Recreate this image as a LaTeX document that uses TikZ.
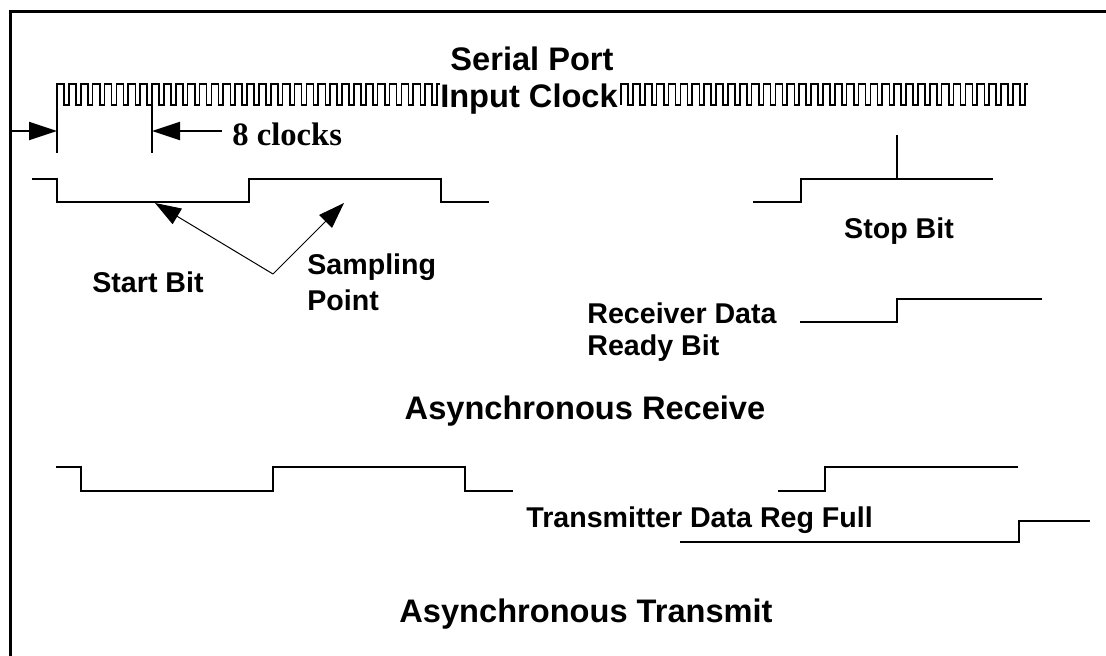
\documentclass[tikz,border=0pt]{standalone}
\usepackage{fontspec}
\setmainfont{Liberation Serif}
\setsansfont{Liberation Sans}
\usetikzlibrary{arrows.meta}

\tikzset{
  wave/.style={line width=1pt},
  clk/.style={line width=0.8pt},
  lbl/.style={font=\sffamily\bfseries\fontsize{14.3}{17}\selectfont, inner sep=0pt, anchor=base},
  biglbl/.style={font=\sffamily\bfseries\fontsize{16.3}{19}\selectfont, inner sep=0pt, anchor=base},
  dimarrow/.style={line width=1pt, -{Triangle[length=14pt,width=9pt]}},
  ptr/.style={line width=0.5pt, -{Triangle[length=13pt,width=9pt]}},
}

\begin{document}
\begin{tikzpicture}[x=0.5pt,y=-0.5pt]
  \useasboundingbox (0,0) rectangle (1106,656);
  \def\clkper{11.875}
  % frame
  \draw[line width=1.5pt] (10,656) -- (10,12) -- (1106,12);
  % clock
  \draw[clk] (57,153) -- (57,84)
    \foreach \k in {1,...,32} { -- ++({0.6*\clkper},0) -- ++(0,21) -- ++({0.4*\clkper},0) -- ++(0,-21) }
    -- ++(3,0);
  \draw[clk] (152,105) -- (152,153);
  \draw[clk] (621,105) -- (621,84)
    \foreach \k in {1,...,34} { -- ++({0.6*\clkper},0) -- ++(0,21) -- ++({0.4*\clkper},0) -- ++(0,-21) }
    -- ++(3,0);
  \node[biglbl] (serial) at (532,71) {Serial Port};
  \node[biglbl] (inclk) at (529,108) {Input Clock};
  % 8 clocks
  \coordinate (fr) at (10,131);
  \coordinate (t0) at (57,131);
  \coordinate (t8) at (152,131);
  \coordinate (c8) at (222,131);
  \node[font=\bfseries\fontsize{16.3}{19}\selectfont, inner sep=0pt, anchor=base west] (eight) at (232,146) {8 clocks};
  \draw[dimarrow] (fr) -- (t0);
  \draw[dimarrow] (c8) -- (t8);
  % receive
  \draw[wave] (32,179) -- (57,179) -- (57,202) -- (249,202) -- (249,179) -- (441,179) -- (441,202) -- (489,202);
  \draw[wave] (753,202) -- (801,202) -- (801,179) -- (993,179);
  \draw[wave] (897,135) -- (897,179);
  \node[lbl] (stopbit) at (899,239) {Stop Bit};
  \node[lbl] (startbit) at (148,293) {Start Bit};
  \node[lbl, anchor=base west] (sampl) at (307,275) {Sampling};
  \node[lbl, anchor=base west] (point) at (307,311) {Point};
  \coordinate (apex) at (273,274);
  \coordinate (sp1) at (155,203);
  \coordinate (sp2) at (344,203);
  \draw[ptr] (apex) -- (sp1);
  \draw[ptr] (apex) -- (sp2);
  \node[lbl, anchor=base west] (rdata) at (587,324) {Receiver Data};
  \node[lbl, anchor=base west] (rready) at (587,356) {Ready Bit};
  \draw[wave] (800,322) -- (897,322) -- (897,299) -- (1042,299);
  \node[biglbl] (arecv) at (585,420) {Asynchronous Receive};
  % transmit
  \draw[wave] (56,467) -- (81,467) -- (81,491) -- (273,491) -- (273,467) -- (465,467) -- (465,491) -- (513,491);
  \draw[wave] (778,491) -- (825,491) -- (825,467) -- (1018,467);
  \node[lbl, anchor=base west] (tdrf) at (526,527) {Transmitter Data Reg Full};
  \draw[wave] (680,542) -- (1019,542) -- (1019,521) -- (1090,521);
  \node[biglbl] (axmit) at (586,622) {Asynchronous Transmit};
\end{tikzpicture}
\end{document}
